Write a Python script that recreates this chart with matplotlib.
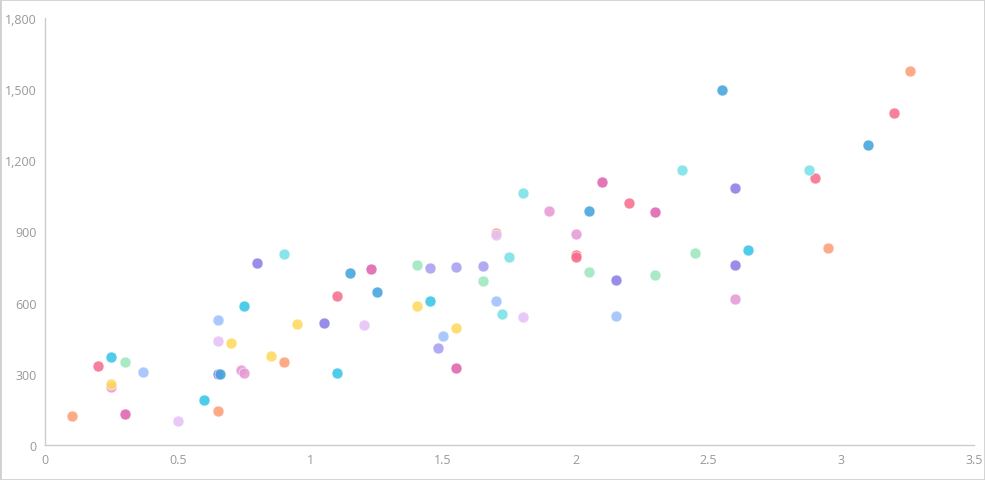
import matplotlib
matplotlib.use("Agg")
import matplotlib.pyplot as plt
from matplotlib.ticker import FuncFormatter, MultipleLocator
from matplotlib.patches import Rectangle

# Data grouped by colour
orange_x = [0.1, 0.65, 0.9, 1.7, 2.95, 3.26]
orange_y = [124, 143, 350, 894, 830, 1577]
pink_x = [0.2, 1.1, 2.0, 2.0, 2.2, 2.9, 3.2]
pink_y = [333, 628, 801, 793, 1020, 1126, 1400]
cyan_x = [0.25, 0.6, 0.75, 1.1, 1.45, 2.65]
cyan_y = [371, 190, 586, 303, 607, 822]
green_x = [0.3, 1.4, 1.65, 2.05, 2.3, 2.45]
green_y = [350, 759, 691, 729, 716, 809]
yellow_x = [0.25, 0.7, 0.85, 0.95, 1.4, 1.55]
yellow_y = [257, 430, 375, 510, 586, 493]
lightblue_x = [0.37, 0.65, 1.5, 1.7, 2.15]
lightblue_y = [308, 527, 459, 607, 544]
purple_x = [0.65, 0.8, 1.05, 2.15, 2.6, 2.6]
purple_y = [299, 767, 514, 695, 1083, 759]
lightpurple_x = [1.45, 1.48, 1.55, 1.65]
lightpurple_y = [746, 409, 750, 755]
lavender_x = [0.5, 0.65, 1.2, 1.7, 1.8]
lavender_y = [101, 438, 506, 885, 540]
magenta_x = [0.3, 1.23, 1.55, 2.1, 2.3]
magenta_y = [131, 742, 325, 1108, 982]
blue_x = [0.66, 1.15, 1.25, 2.05, 2.55, 3.1]
blue_y = [299, 725, 645, 986, 1497, 1265]
teal_x = [0.9, 1.72, 1.75, 1.8, 2.4, 2.88]
teal_y = [805, 552, 793, 1062, 1159, 1159]
pinkviolet_x = [0.25, 0.74, 0.75, 1.9, 2.0, 2.6]
pinkviolet_y = [245, 316, 303, 986, 890, 615]

groups = [
    (orange_x, orange_y, "#fd9f78"),
    (pink_x, pink_y, "#f76f8e"),
    (cyan_x, cyan_y, "#35c5e8"),
    (green_x, green_y, "#9fe6bd"),
    (pinkviolet_x, pinkviolet_y, "#e79ad6"),
    (yellow_x, yellow_y, "#fed95f"),
    (lightblue_x, lightblue_y, "#9fc1fc"),
    (purple_x, purple_y, "#8a7ee6"),
    (lightpurple_x, lightpurple_y, "#a89ff2"),
    (lavender_x, lavender_y, "#e6c0f5"),
    (magenta_x, magenta_y, "#de63b0"),
    (blue_x, blue_y, "#43a4dc"),
    (teal_x, teal_y, "#79e2e6"),
]

fig = plt.figure(figsize=(9.85, 4.81), dpi=100)
ax = fig.add_axes([45/985, 1-446/481, (974-45)/985, (446-19)/481])

for xs, ys, c in groups:
    ax.scatter(xs, ys, s=62, color=c, alpha=0.88, edgecolors="white", linewidths=0.4, zorder=3)

ax.set_xlim(0, 3.5)
ax.set_ylim(0, 1800)
ax.xaxis.set_major_locator(MultipleLocator(0.5))
ax.yaxis.set_major_locator(MultipleLocator(300))
ax.xaxis.set_major_formatter(FuncFormatter(lambda v, p: f"{v:g}"))
ax.yaxis.set_major_formatter(FuncFormatter(lambda v, p: f"{int(v):,}"))
for s in ["top", "right"]:
    ax.spines[s].set_visible(False)
for s in ["left", "bottom"]:
    ax.spines[s].set_color("#cccccc")
    ax.spines[s].set_linewidth(1)
ax.tick_params(length=0, labelsize=9, colors="#999999", pad=6)
for lab in ax.get_xticklabels() + ax.get_yticklabels():
    lab.set_family(["Open Sans", "DejaVu Sans"])

fig.patches.append(Rectangle((0, 0), 1, 1, transform=fig.transFigure, fill=False,
                             edgecolor="#d0d0d0", linewidth=2))

fig.savefig("out.png", dpi=100)
